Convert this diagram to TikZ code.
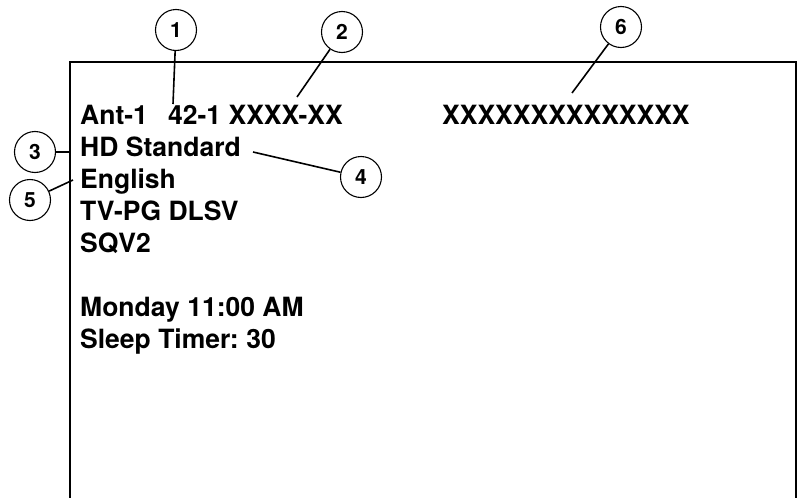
\documentclass[tikz,border=0pt]{standalone}
\usepackage{fontspec}
\setmainfont{TeX Gyre Heros}
\begin{document}
\begin{tikzpicture}[x=1pt,y=-1pt,
  txt/.style={anchor=base west,inner sep=0pt,font=\fontsize{26.5}{30}\selectfont\bfseries},
  num/.style={circle,draw,line width=1.1pt,minimum size=41pt,inner sep=0pt,font=\fontsize{21}{24}\selectfont\bfseries},
  lead/.style={line width=1.6pt}]
\useasboundingbox (0,0) rectangle (801,498);
\draw[line width=2.8pt] (70,500) -- (70,62) -- (796,62) -- (796,500);
\node[txt] (t1) at (80,124) {Ant-1};
\node[txt] (t2) at (168,124) {42-1 XXXX-XX};
\node[txt] (t6) at (442,124) {XXXXXXXXXXXXXX};
\node[txt] (t3) at (80,156) {HD Standard};
\node[txt] (t5) at (80,188) {English};
\node[txt] (t7) at (80,220) {TV-PG DLSV};
\node[txt] (t8) at (80,252) {SQV2};
\node[txt] (t9) at (80,316) {Monday 11:00 AM};
\node[txt] (t10) at (80,348) {Sleep Timer:\hspace{-2pt} 30};
\node[num] (c1) at (176,30) {1};
\node[num] (c2) at (342,32) {2};
\node[num] (c6) at (621,27) {6};
\node[num] (c3) at (35,152) {3};
\node[num] (c4) at (361,177) {4};
\node[num] (c5) at (30,200) {5};
\coordinate (e1) at (173,104);
\coordinate (e2) at (297,97);
\coordinate (e6) at (572,93);
\coordinate (e3) at (71,152);
\coordinate (e4) at (253,152);
\coordinate (e5) at (73,180);
\draw[lead] (c1) -- (e1);
\draw[lead] (c2) -- (e2);
\draw[lead] (c6) -- (e6);
\draw[lead] (c3) -- (e3);
\draw[lead] (c4) -- (e4);
\draw[lead] (c5) -- (e5);
\end{tikzpicture}
\end{document}
